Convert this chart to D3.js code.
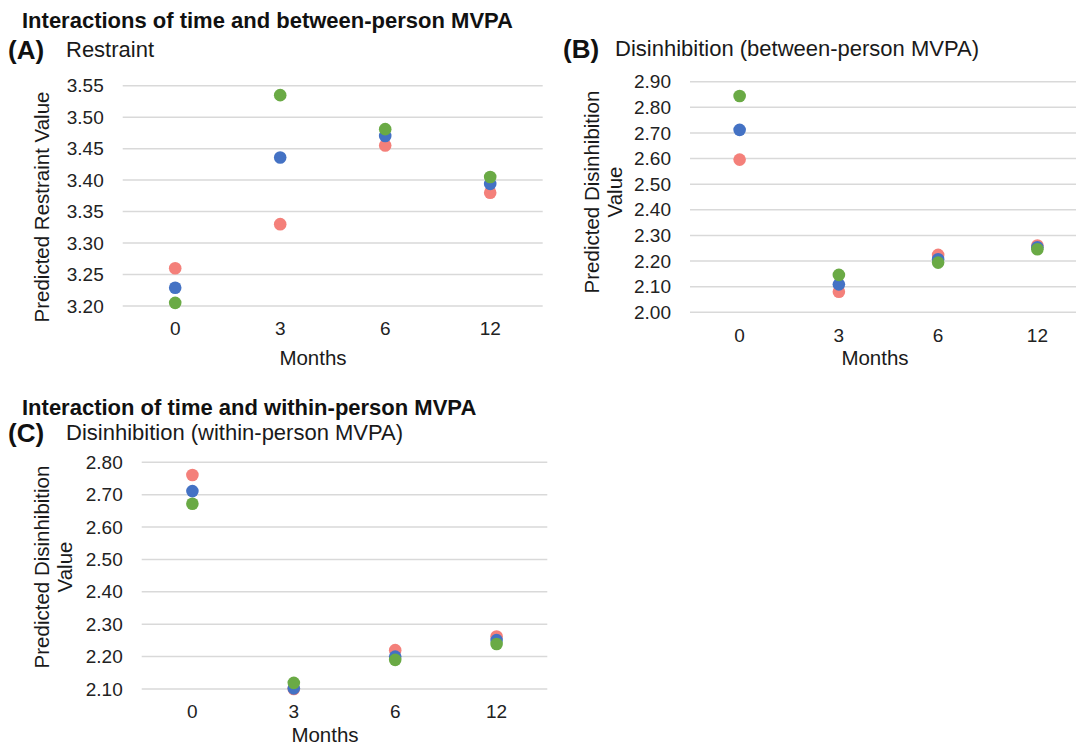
<!DOCTYPE html>
<html>
<head>
<meta charset="utf-8">
<script src="https://cdn.jsdelivr.net/npm/d3@7"></script>
<style>
  body { margin: 0; background: #fff; }
  svg { font-family: "Liberation Sans", Arial, Helvetica, sans-serif; }
</style>
</head>
<body>
<div id="my_dataviz"></div>
<script>
var width = 1076, height = 746;

// months on the x axis
var months = ["0", "3", "6", "12"];
var colors = ["#f4807a", "#4472c4", "#6aaa45"];

// (A) restraint, between-person MVPA
var restraintRed   = [3.260, 3.330, 3.455, 3.380];
var restraintBlue  = [3.229, 3.436, 3.470, 3.394];
var restraintGreen = [3.205, 3.535, 3.481, 3.405];
var restraintTicks = [3.20, 3.25, 3.30, 3.35, 3.40, 3.45, 3.50, 3.55];

// (B) disinhibition, between-person MVPA
var betweenRed   = [2.596, 2.080, 2.224, 2.261];
var betweenBlue  = [2.712, 2.109, 2.207, 2.254];
var betweenGreen = [2.844, 2.146, 2.194, 2.246];
var betweenTicks = [2.00, 2.10, 2.20, 2.30, 2.40, 2.50, 2.60, 2.70, 2.80, 2.90];

// (C) disinhibition, within-person MVPA
var withinRed   = [2.761, 2.100, 2.220, 2.262];
var withinBlue  = [2.711, 2.102, 2.200, 2.251];
var withinGreen = [2.672, 2.119, 2.190, 2.239];
var withinTicks = [2.10, 2.20, 2.30, 2.40, 2.50, 2.60, 2.70, 2.80];

var svg = d3.select("#my_dataviz")
  .append("svg")
  .attr("width", width)
  .attr("height", height);

function drawPanel(p) {
  var x = d3.scaleBand()
    .domain(months)
    .range([p.left, p.right]);

  var y = d3.scaleLinear()
    .domain([p.ticks[0], p.ticks[p.ticks.length - 1]])
    .range([p.bottom, p.top]);

  var g = svg.append("g");

  // gridlines
  g.selectAll(".grid")
    .data(p.ticks)
    .join("line")
    .attr("x1", p.left)
    .attr("x2", p.right)
    .attr("y1", function(d) { return y(d); })
    .attr("y2", function(d) { return y(d); })
    .attr("stroke", "#d9d9d9")
    .attr("stroke-width", 1.5);

  // y tick labels
  var yAxis = g.append("g")
    .attr("transform", "translate(" + (p.left - 19) + ",0)")
    .call(d3.axisLeft(y).tickValues(p.ticks).tickSize(0).tickPadding(0).tickFormat(d3.format(".2f")));
  yAxis.select(".domain").remove();
  yAxis.selectAll("text")
    .attr("font-size", 19)
    .attr("font-family", "Liberation Sans, Arial, sans-serif")
    .attr("fill", "#222");

  // x tick labels
  var xAxis = g.append("g")
    .attr("transform", "translate(0," + p.bottom + ")")
    .call(d3.axisBottom(x).tickSize(0).tickPadding(16));
  xAxis.select(".domain").remove();
  xAxis.selectAll("text")
    .attr("font-size", 19)
    .attr("font-family", "Liberation Sans, Arial, sans-serif")
    .attr("fill", "#222");

  // points, red first so green sits on top
  p.series.forEach(function(vals, k) {
    g.selectAll(".pt" + k)
      .data(vals)
      .join("circle")
      .attr("cx", function(d, i) { return x(months[i]) + x.bandwidth() / 2; })
      .attr("cy", function(d) { return y(d); })
      .attr("r", 6.3)
      .attr("fill", colors[k]);
  });

  // axis titles
  g.append("text")
    .attr("x", p.monthsX)
    .attr("y", p.monthsY)
    .attr("text-anchor", "middle")
    .attr("font-size", 20.5)
    .attr("fill", "#1a1a1a")
    .text("Months");

  var yt = g.append("text")
    .attr("transform", "translate(" + p.yTitleX + "," + p.yTitleY + ") rotate(-90)")
    .attr("text-anchor", "middle")
    .attr("font-size", 20.5)
    .attr("fill", "#1a1a1a");
  p.yTitle.forEach(function(line, i) {
    yt.append("tspan")
      .attr("x", 0)
      .attr("y", (i - (p.yTitle.length - 1) / 2) * 23 + 7)
      .text(line);
  });

  // panel letter + title
  g.append("text")
    .attr("x", p.letterX)
    .attr("y", p.letterY)
    .attr("font-size", 26)
    .attr("font-weight", "bold")
    .attr("fill", "#111")
    .text(p.letter);
  g.append("text")
    .attr("x", p.titleX)
    .attr("y", p.letterY - 2)
    .attr("font-size", 22)
    .attr("fill", "#1a1a1a")
    .text(p.title);
}

svg.append("text")
  .attr("x", 22).attr("y", 28)
  .attr("font-size", 22).attr("font-weight", "bold").attr("fill", "#111")
  .text("Interactions of time and between-person MVPA");

svg.append("text")
  .attr("x", 22).attr("y", 415)
  .attr("font-size", 22).attr("font-weight", "bold").attr("fill", "#111")
  .text("Interaction of time and within-person MVPA");

drawPanel({
  left: 122.7, right: 542.7, top: 85.7, bottom: 306,
  ticks: restraintTicks,
  series: [restraintRed, restraintBlue, restraintGreen],
  monthsX: 313, monthsY: 365, yTitleX: 42, yTitleY: 207,
  yTitle: ["Predicted Restraint Value"],
  letter: "(A)", letterX: 8, letterY: 59, titleX: 66, title: "Restraint"
});

drawPanel({
  left: 690, right: 1087, top: 81.7, bottom: 312.3,
  ticks: betweenTicks,
  series: [betweenRed, betweenBlue, betweenGreen],
  monthsX: 875, monthsY: 365, yTitleX: 603, yTitleY: 192,
  yTitle: ["Predicted Disinhibition", "Value"],
  letter: "(B)", letterX: 563, letterY: 58, titleX: 615, title: "Disinhibition (between-person MVPA)"
});

drawPanel({
  left: 141.7, right: 547.3, top: 462.3, bottom: 689,
  ticks: withinTicks,
  series: [withinRed, withinBlue, withinGreen],
  monthsX: 325, monthsY: 742, yTitleX: 53, yTitleY: 567,
  yTitle: ["Predicted Disinhibition", "Value"],
  letter: "(C)", letterX: 8, letterY: 442, titleX: 66, title: "Disinhibition (within-person MVPA)"
});
</script>
</body>
</html>
